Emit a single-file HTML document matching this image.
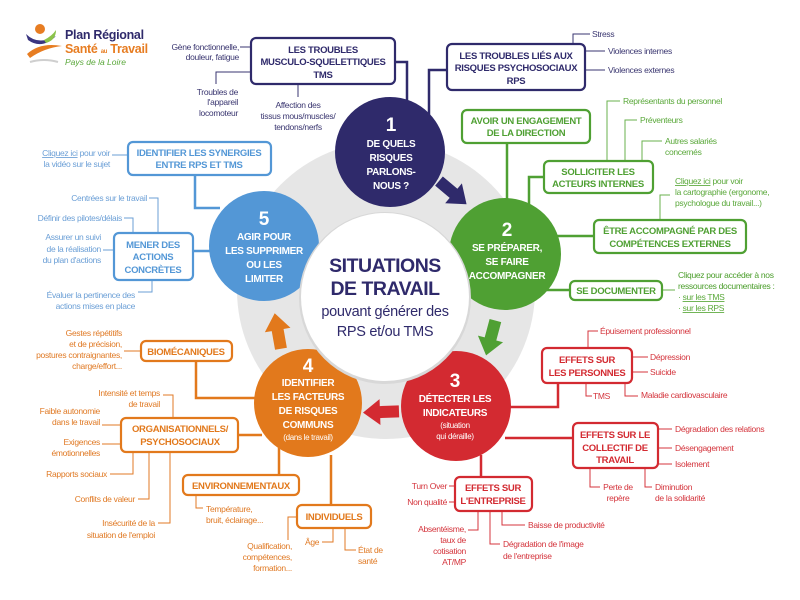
<!DOCTYPE html>
<html><head><meta charset="utf-8"><style>
html,body{margin:0;padding:0;background:#fff;width:800px;height:600px;overflow:hidden}
svg{display:block;font-family:"Liberation Sans",sans-serif}
.b{font-weight:bold;font-size:9.5px;letter-spacing:-0.3px;text-anchor:middle}
.l{font-size:8.5px;letter-spacing:-0.3px}
.e{text-anchor:end}
.c{text-anchor:middle}
.w{fill:#fff;font-weight:bold;text-anchor:middle;font-size:10px;letter-spacing:-0.3px}
.n{fill:#fff;font-weight:bold;text-anchor:middle;font-size:19px}
</style></head><body>
<svg width="800" height="600" viewBox="0 0 800 600">
<!-- logo -->
<circle cx="40" cy="29" r="5" fill="#e77d22"/>
<path d="M26 34 Q38 46 56 36 Q42 50 28 40 Z" fill="#3a3580"/>
<path d="M44 40 Q52 36 56 30 Q56 40 46 43 Z" fill="#8bc34a"/>
<path d="M27 54 Q40 42 62 46 Q44 48 30 58 Z" fill="#e77d22"/>
<path d="M30 62 Q44 58 58 62" stroke="#cfcfcf" stroke-width="2" fill="none"/>
<text x="65" y="39" font-size="12.5" font-weight="bold" fill="#2f2a6b" letter-spacing="-0.3">Plan Régional</text>
<text x="65" y="53" font-size="12.5" font-weight="bold" fill="#e77d22" letter-spacing="-0.3">Santé <tspan font-size="6">au</tspan> Travail</text>
<text x="65" y="65" font-size="8.5" font-style="italic" fill="#5aa83a">Pays de la Loire</text>

<!-- ring -->
<circle cx="386" cy="290" r="149" fill="#e6e6e6"/>

<!-- connectors -->
<g fill="none" stroke-width="2.5">
 <g stroke="#2f2a6b">
  <path d="M395 62 H407 V105"/><path d="M447 70 H429 V125"/>
 </g>
 <g stroke="#4fa033">
  <path d="M507 143 V200"/><path d="M544 177 H529 V205"/>
  <path d="M555 236 H594"/><path d="M545 290 H570"/>
 </g>
 <g stroke="#d32a31">
  <path d="M505 407 H558 V383"/><path d="M505 438 H573"/><path d="M481 455 V477"/>
 </g>
 <g stroke="#e2791c">
  <path d="M196 361 V398 H258"/><path d="M238 435 H262"/><path d="M279 448 V475"/><path d="M331 455 V505"/>
 </g>
 <g stroke="#5397d6">
  <path d="M195 175 V208 H220"/><path d="M193 251 H212"/>
 </g>
</g>
<g fill="none" stroke-width="1">
 <g stroke="#3a3670">
  <path d="M240 47 H251"/><path d="M251 72 H216 V84"/><path d="M298 84 V97"/>
  <path d="M573 44 V34 H590"/><path d="M585 51 H605"/><path d="M585 70 H605"/>
 </g>
 <g stroke="#6ab04c">
  <path d="M607 161 V101 H620"/><path d="M625 161 V120 H637"/><path d="M642 161 V141 H662"/>
  <path d="M660 220 V195 H670"/><path d="M662 290 H675"/>
 </g>
 <g stroke="#d4343c">
  <path d="M588 348 V331 H598"/><path d="M632 357 H648"/><path d="M632 372 H648"/>
  <path d="M586 383 V396 H592"/><path d="M625 383 V396 H638"/>
  <path d="M658 429 H672"/><path d="M658 448 H672"/><path d="M658 464 H672"/>
  <path d="M590 468 V487 H600"/><path d="M645 468 V487 H652"/>
  <path d="M449 486 H455"/><path d="M449 502 H455"/>
  <path d="M478 511 V530 H468"/><path d="M502 511 V525 H525"/><path d="M490 511 V544 H500"/>
 </g>
 <g stroke="#e07a25">
  <path d="M124 351 H141"/><path d="M163 395 H173 V418"/><path d="M102 425 H121"/><path d="M102 444 H121"/>
  <path d="M133 452 V474 H110"/><path d="M149 452 V499 H138"/><path d="M170 452 V523 H158"/>
  <path d="M196 495 V508 H203"/><path d="M297 517 H288 V540"/><path d="M333 528 V542 H322"/><path d="M345 528 V550 H356"/>
 </g>
 <g stroke="#6b9fd6">
  <path d="M112 155 H128"/><path d="M149 198 H158 V233"/><path d="M124 218 H133 V233"/>
  <path d="M103 250 H114"/><path d="M152 280 V292 H138"/>
 </g>
</g>

<!-- main circles -->
<circle cx="390" cy="152" r="55" fill="#2f2a6b"/>
<circle cx="505" cy="254" r="56" fill="#4fa033"/>
<circle cx="456" cy="406" r="55" fill="#d32a31"/>
<circle cx="308" cy="403" r="54" fill="#e2791c"/>
<circle cx="264" cy="246" r="55" fill="#5397d6"/>
<circle cx="385" cy="298" r="86" fill="#d8d8d8"/>
<circle cx="385" cy="297" r="84" fill="#fff"/>

<!-- arrows -->
<g>
 <polygon points="-17,-6 2,-6 2,-13 19,0 2,13 2,6 -17,6" fill="#2f2a6b" transform="translate(452,192) rotate(40)"/>
 <polygon points="-17,-6 2,-6 2,-13 19,0 2,13 2,6 -17,6" fill="#4fa033" transform="translate(491,337) rotate(105)"/>
 <polygon points="-17,-6 2,-6 2,-13 19,0 2,13 2,6 -17,6" fill="#d32a31" transform="translate(382,412) rotate(178)"/>
 <polygon points="-17,-6 2,-6 2,-13 19,0 2,13 2,6 -17,6" fill="#e2791c" transform="translate(278,332) rotate(-100)"/>
</g>

<!-- circle text -->
<text class="n" x="391" y="131">1</text>
<text class="w" x="391" y="147">DE QUELS</text><text class="w" x="391" y="161">RISQUES</text><text class="w" x="391" y="175">PARLONS-</text><text class="w" x="391" y="189">NOUS ?</text>
<text class="n" x="507" y="236">2</text>
<text class="w" x="507" y="251">SE PRÉPARER,</text><text class="w" x="507" y="265">SE FAIRE</text><text class="w" x="507" y="279">ACCOMPAGNER</text>
<text class="n" x="455" y="387">3</text>
<text class="w" x="455" y="402">DÉTECTER LES</text><text class="w" x="455" y="416">INDICATEURS</text>
<text class="w" x="455" y="428" style="font-weight:normal;font-size:8px">(situation</text><text class="w" x="455" y="439" style="font-weight:normal;font-size:8px">qui déraille)</text>
<text class="n" x="308" y="372">4</text>
<text class="w" x="308" y="386">IDENTIFIER</text><text class="w" x="308" y="400">LES FACTEURS</text><text class="w" x="308" y="414">DE RISQUES</text><text class="w" x="308" y="428">COMMUNS</text>
<text class="w" x="308" y="440" style="font-weight:normal;font-size:8px">(dans le travail)</text>
<text class="n" x="264" y="225">5</text>
<text class="w" x="264" y="240">AGIR POUR</text><text class="w" x="264" y="254">LES SUPPRIMER</text><text class="w" x="264" y="268">OU LES</text><text class="w" x="264" y="282">LIMITER</text>

<!-- center text -->
<g fill="#2f2a6b" text-anchor="middle">
<text x="385" y="272" font-size="19.5" font-weight="bold" letter-spacing="-0.5">SITUATIONS</text>
<text x="385" y="295" font-size="19.5" font-weight="bold" letter-spacing="-0.5">DE TRAVAIL</text>
<text x="385" y="316" font-size="14.5" letter-spacing="-0.3">pouvant générer des</text>
<text x="385" y="336" font-size="14.5" letter-spacing="-0.3">RPS et/ou TMS</text>
</g>

<!-- boxes -->
<g fill="#fff" stroke-width="2.2">
 <rect x="251" y="38" width="144" height="46" rx="5" stroke="#2f2a6b"/>
 <rect x="447" y="44" width="138" height="46" rx="5" stroke="#2f2a6b"/>
 <rect x="462" y="110" width="128" height="33" rx="5" stroke="#4fa033"/>
 <rect x="544" y="161" width="109" height="32" rx="5" stroke="#4fa033"/>
 <rect x="594" y="220" width="152" height="33" rx="5" stroke="#4fa033"/>
 <rect x="570" y="281" width="92" height="19" rx="5" stroke="#4fa033"/>
 <rect x="542" y="348" width="90" height="35" rx="5" stroke="#d32a31"/>
 <rect x="573" y="423" width="85" height="45" rx="5" stroke="#d32a31"/>
 <rect x="455" y="477" width="77" height="34" rx="5" stroke="#d32a31"/>
 <rect x="141" y="341" width="91" height="20" rx="5" stroke="#e2791c"/>
 <rect x="121" y="418" width="117" height="34" rx="5" stroke="#e2791c"/>
 <rect x="183" y="475" width="116" height="20" rx="5" stroke="#e2791c"/>
 <rect x="297" y="505" width="74" height="23" rx="5" stroke="#e2791c"/>
 <rect x="128" y="142" width="143" height="33" rx="5" stroke="#5397d6"/>
 <rect x="114" y="233" width="79" height="47" rx="5" stroke="#5397d6"/>
</g>
<g fill="#2f2a6b">
 <text class="b" x="323" y="53">LES TROUBLES</text><text class="b" x="323" y="65">MUSCULO-SQUELETTIQUES</text><text class="b" x="323" y="78">TMS</text>
 <text class="b" x="516" y="59">LES TROUBLES LIÉS AUX</text><text class="b" x="516" y="71">RISQUES PSYCHOSOCIAUX</text><text class="b" x="516" y="84">RPS</text>
</g>
<g fill="#4fa033">
 <text class="b" x="526" y="124">AVOIR UN ENGAGEMENT</text><text class="b" x="526" y="136">DE LA DIRECTION</text>
 <text class="b" x="598" y="175">SOLLICITER LES</text><text class="b" x="598" y="187">ACTEURS INTERNES</text>
 <text class="b" x="670" y="234">ÊTRE ACCOMPAGNÉ PAR DES</text><text class="b" x="670" y="247">COMPÉTENCES EXTERNES</text>
 <text class="b" x="616" y="294">SE DOCUMENTER</text>
</g>
<g fill="#d32a31">
 <text class="b" x="587" y="363">EFFETS SUR</text><text class="b" x="587" y="376">LES PERSONNES</text>
 <text class="b" x="615" y="438">EFFETS SUR LE</text><text class="b" x="615" y="451">COLLECTIF DE</text><text class="b" x="615" y="463">TRAVAIL</text>
 <text class="b" x="493" y="491">EFFETS SUR</text><text class="b" x="493" y="504">L'ENTREPRISE</text>
</g>
<g fill="#e2791c">
 <text class="b" x="186" y="355">BIOMÉCANIQUES</text>
 <text class="b" x="180" y="432">ORGANISATIONNELS/</text><text class="b" x="180" y="445">PSYCHOSOCIAUX</text>
 <text class="b" x="241" y="489">ENVIRONNEMENTAUX</text>
 <text class="b" x="334" y="520">INDIVIDUELS</text>
</g>
<g fill="#5397d6">
 <text class="b" x="199" y="156">IDENTIFIER LES SYNERGIES</text><text class="b" x="199" y="168">ENTRE RPS ET TMS</text>
 <text class="b" x="153" y="248">MENER DES</text><text class="b" x="153" y="260">ACTIONS</text><text class="b" x="153" y="273">CONCRÈTES</text>
</g>

<!-- leaf texts -->
<g class="l" fill="#3a3670">
 <text class="e" x="239" y="50">Gène fonctionnelle,</text><text class="e" x="239" y="60">douleur, fatigue</text>
 <text class="e" x="238" y="95">Troubles de</text><text class="e" x="238" y="105">l'appareil</text><text class="e" x="238" y="116">locomoteur</text>
 <text class="c" x="298" y="108">Affection des</text><text class="c" x="298" y="119">tissus mous/muscles/</text><text class="c" x="298" y="130">tendons/nerfs</text>
 <text x="592" y="37">Stress</text><text x="608" y="54">Violences internes</text><text x="608" y="73">Violences externes</text>
</g>
<g class="l" fill="#5aa83a">
 <text x="623" y="104">Représentants du personnel</text>
 <text x="640" y="123">Préventeurs</text>
 <text x="665" y="144">Autres salariés</text><text x="665" y="155">concernés</text>
 <text x="675" y="184"><tspan text-decoration="underline">Cliquez ici</tspan> pour voir</text><text x="675" y="195">la cartographie (ergonome,</text><text x="675" y="206">psychologue du travail...)</text>
 <text x="678" y="278" fill="#4a9d2a">Cliquez pour accéder à nos</text><text x="678" y="289" fill="#4a9d2a">ressources documentaires :</text>
 <text x="678" y="300">· <tspan text-decoration="underline">sur les TMS</tspan></text><text x="678" y="311">· <tspan text-decoration="underline">sur les RPS</tspan></text>
</g>
<g class="l" fill="#d4343c">
 <text x="600" y="334">Épuisement professionnel</text>
 <text x="650" y="360">Dépression</text><text x="650" y="375">Suicide</text>
 <text x="593" y="399">TMS</text><text x="641" y="398">Maladie cardiovasculaire</text>
 <text x="675" y="432">Dégradation des relations</text><text x="675" y="451">Désengagement</text><text x="675" y="467">Isolement</text>
 <text class="c" x="618" y="490">Perte de</text><text class="c" x="618" y="501">repère</text>
 <text x="655" y="490">Diminution</text><text x="655" y="501">de la solidarité</text>
 <text class="e" x="447" y="489">Turn Over</text><text class="e" x="447" y="505">Non qualité</text>
 <text class="e" x="466" y="532">Absentéisme,</text><text class="e" x="466" y="543">taux de</text><text class="e" x="466" y="554">cotisation</text><text class="e" x="466" y="565">AT/MP</text>
 <text x="528" y="528">Baisse de productivité</text>
 <text x="503" y="547">Dégradation de l'image</text><text x="503" y="559">de l'entreprise</text>
</g>
<g class="l" fill="#e07a25">
 <text class="e" x="122" y="336">Gestes répétitifs</text><text class="e" x="122" y="347">et de précision,</text><text class="e" x="122" y="358">postures contraignantes,</text><text class="e" x="122" y="369">charge/effort...</text>
 <text class="e" x="160" y="396">Intensité et temps</text><text class="e" x="160" y="407">de travail</text>
 <text class="e" x="100" y="414">Faible autonomie</text><text class="e" x="100" y="425">dans le travail</text>
 <text class="e" x="100" y="445">Exigences</text><text class="e" x="100" y="456">émotionnelles</text>
 <text class="e" x="107" y="477">Rapports sociaux</text>
 <text class="e" x="135" y="502">Conflits de valeur</text>
 <text class="e" x="155" y="526">Insécurité de la</text><text class="e" x="155" y="538">situation de l'emploi</text>
 <text x="206" y="512">Température,</text><text x="206" y="523">bruit, éclairage...</text>
 <text class="e" x="292" y="549">Qualification,</text><text class="e" x="292" y="560">compétences,</text><text class="e" x="292" y="571">formation...</text>
 <text x="305" y="545">Âge</text>
 <text x="358" y="553">État de</text><text x="358" y="564">santé</text>
</g>
<g class="l" fill="#6b9fd6">
 <text class="e" x="110" y="156"><tspan text-decoration="underline">Cliquez ici</tspan> pour voir</text><text class="e" x="110" y="167">la vidéo sur le sujet</text>
 <text class="e" x="147" y="201">Centrées sur le travail</text>
 <text class="e" x="122" y="221">Définir des pilotes/délais</text>
 <text class="e" x="101" y="240">Assurer un suivi</text><text class="e" x="101" y="252">de la réalisation</text><text class="e" x="101" y="263">du plan d'actions</text>
 <text class="e" x="135" y="298">Évaluer la pertinence des</text><text class="e" x="135" y="309">actions mises en place</text>
</g>
</svg>
</body></html>
